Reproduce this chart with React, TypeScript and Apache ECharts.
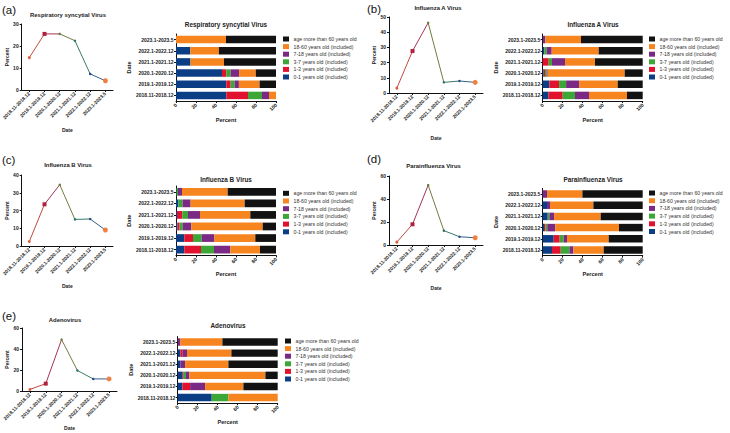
import React, { useEffect, useRef } from 'react';
import * as echarts from 'echarts';

// ---------- data ----------
const periods = ['2018.11-2018.12', '2019.1-2019.12', '2020.1-2020.12', '2021.1-2021.12', '2022.1-2022.12', '2023.1-2023.5'];
// stacking order, left to right
const ageGroups = [
  '0-1 years old (included)',
  '1-3 years old (included)',
  '3-7 years old (included)',
  '7-18 years old (included)',
  '18-60 years old (included)',
  'age more than 60 years old',
];
const virusNames = ['Respiratory syncytial Virus', 'Influenza A Virus', 'Influenza B Virus', 'Parainfluenza Virus', 'Adenovirus'];
const panelLabels = ['(a)', '(b)', '(c)', '(d)', '(e)'];

// positive rate (%) per period
const rsvRate = [14.7, 25.5, 25.5, 22.4, 7.3, 4.2];
const fluARate = [3.2, 27.6, 46.2, 7.0, 7.9, 7.0];
const fluBRate = [2.5, 23.5, 34.5, 15.0, 15.2, 9.0];
const pivRate = [2.5, 18.0, 52.0, 12.5, 7.2, 6.3];
const advRate = [1.5, 7.0, 49.0, 19.5, 11.5, 11.5];

// age share (%) per period; rows follow ageGroups
const rsvShares = [
  [50.3, 50.3, 46.0, 14.5, 14.3, 0],
  [21.7, 4.3, 4.3, 0, 0, 0],
  [14.0, 4.0, 4.3, 0, 0, 0],
  [7.0, 4.3, 8.5, 0, 0, 0],
  [7.0, 20.7, 16.7, 33.5, 28.6, 50.0],
  [0, 16.4, 20.2, 52.0, 57.1, 50.0],
];
const fluAShares = [
  [5.7, 6.7, 1.0, 0, 1.7, 0],
  [14.3, 9.7, 1.3, 6.0, 0, 0],
  [12.3, 7.0, 1.7, 3.3, 2.3, 0],
  [14.0, 13.0, 1.0, 13.0, 5.0, 2.7],
  [38.0, 38.6, 77.0, 30.0, 47.0, 35.6],
  [15.7, 25.0, 18.0, 47.7, 44.0, 61.7],
];
const fluBShares = [
  [8.3, 8.3, 1.3, 1.0, 2.3, 0.5],
  [16.7, 8.7, 2.3, 5.3, 0, 0],
  [13.0, 8.7, 3.0, 5.7, 4.3, 1.5],
  [16.3, 12.7, 8.7, 12.0, 8.0, 4.0],
  [29.7, 40.9, 71.4, 50.3, 54.1, 45.7],
  [16.0, 20.7, 13.3, 25.7, 31.3, 48.3],
];
const pivShares = [
  [9.3, 11.0, 1.3, 5.0, 4.3, 0],
  [8.7, 6.0, 1.3, 0, 0, 0],
  [8.7, 4.0, 2.0, 1.7, 0, 0],
  [4.0, 3.3, 8.0, 4.7, 3.0, 4.3],
  [30.3, 41.7, 63.7, 46.6, 43.4, 35.4],
  [39.0, 34.0, 23.7, 42.0, 49.3, 60.3],
];
const advShares = [
  [34.0, 4.7, 5.0, 2.7, 2.7, 0],
  [0, 7.7, 1.0, 0, 2.3, 0],
  [16.7, 0, 2.3, 0, 0, 0],
  [0, 15.0, 3.3, 4.7, 4.3, 2.7],
  [49.3, 38.3, 76.1, 43.3, 44.4, 42.0],
  [0, 34.3, 12.3, 49.3, 46.3, 55.3],
];

const rates = [rsvRate, fluARate, fluBRate, pivRate, advRate];
const shares = [rsvShares, fluAShares, fluBShares, pivShares, advShares];
const rateMax = [30, 50, 40, 60, 60];
const rateStep = [10, 10, 10, 20, 20];

// ---------- styles / layout ----------
const ageColors = ['#0C3E86', '#E1122D', '#3CA636', '#7A2A84', '#F6851F', '#121212'];
const markerColors = ['#E0603E', '#B0203E', '#6E7D3E', '#2E7262', '#244C8A', '#F08042'];
const markerShapes = ['circle', 'rect', 'circle', 'circle', 'circle', 'circle'];
const markerSizes = [3, 4, 2.5, 2.5, 2.5, 5];
const segColors = ['#BF4A3C', '#A23452', '#6E7C40', '#3A786A', '#33608E'];

const layouts = [
  { label: [2, 9.5], lineTitle: [68, 14.5], barTitle: [226, 24.5], lineGrid: { left: 21, top: 24, width: 92, height: 66 }, dateGap: 37, barGrid: { left: 176, top: 34, width: 100, height: 67 }, legend: { left: 283, top: 36.5, gap: 2.6 } },
  { label: [367, 9], lineTitle: [438, 7.5], barTitle: [593, 24.5], lineGrid: { left: 389, top: 17, width: 94, height: 76 }, dateGap: 42, barGrid: { left: 542.7, top: 34, width: 100, height: 67 }, legend: { left: 649, top: 36.5, gap: 2.6 } },
  { label: [2, 160], lineTitle: [68, 164.5], barTitle: [226, 179], lineGrid: { left: 21, top: 175, width: 92, height: 71 }, dateGap: 37, barGrid: { left: 176, top: 186, width: 100, height: 69.4 }, legend: { left: 283, top: 190.8, gap: 2.7 } },
  { label: [367, 158.5], lineTitle: [433.5, 165.5], barTitle: [593, 179], lineGrid: { left: 389, top: 176, width: 94, height: 69 }, dateGap: 40, barGrid: { left: 542.7, top: 188.4, width: 100, height: 67.2 }, legend: { left: 649, top: 190.5, gap: 2.7 } },
  { label: [2, 316], lineTitle: [65, 319.5], barTitle: [228, 325.5], lineGrid: { left: 22, top: 328, width: 95, height: 63 }, dateGap: 34, barGrid: { left: 177.7, top: 336.5, width: 100, height: 66.6 }, legend: { left: 285, top: 338.5, gap: 2.6 } },
];

const FONT = 'Liberation Sans, Arial, sans-serif';
const axisLineStyle = { show: true, lineStyle: { color: '#111', width: 1 } };

function buildOption() {
  const grid: any[] = [];
  const xAxis: any[] = [];
  const yAxis: any[] = [];
  const series: any[] = [];
  const legend: any[] = [];
  const graphic: any[] = [];

  const stops: any[] = [];
  segColors.forEach((c, i) => {
    stops.push({ offset: i / segColors.length, color: c });
    stops.push({ offset: (i + 1) / segColors.length, color: c });
  });

  layouts.forEach((L, p) => {
    const gLine = grid.length;
    grid.push({ ...L.lineGrid, containLabel: false });
    const gBar = grid.length;
    grid.push({ ...L.barGrid, containLabel: false });

    // line chart axes
    xAxis.push({
      gridIndex: gLine, type: 'category', data: periods, boundaryGap: true,
      axisLine: axisLineStyle,
      axisTick: { show: true, alignWithLabel: true, length: 2, lineStyle: { color: '#111' } },
      axisLabel: { rotate: 45, fontSize: 4.8, fontWeight: 'bold', color: '#222', margin: 3, interval: 0, fontFamily: FONT },
      name: 'Date', nameLocation: 'middle', nameGap: L.dateGap,
      nameTextStyle: { fontSize: 5, fontWeight: 'bold', color: '#222', fontFamily: FONT },
    });
    yAxis.push({
      gridIndex: gLine, type: 'value', min: 0, max: rateMax[p], interval: rateStep[p],
      axisLine: axisLineStyle,
      axisTick: { show: true, length: 2, lineStyle: { color: '#111' } },
      axisLabel: { fontSize: 5, fontWeight: 'bold', color: '#222', margin: 3, fontFamily: FONT },
      splitLine: { show: false },
      name: 'Percent', nameLocation: 'middle', nameGap: 11,
      nameTextStyle: { fontSize: 5, fontWeight: 'bold', color: '#222', fontFamily: FONT },
    });
    // bar chart axes
    const xBar = xAxis.length;
    xAxis.push({
      gridIndex: gBar, type: 'value', min: 0, max: 100, interval: 20,
      axisLine: axisLineStyle,
      axisTick: { show: true, length: 2, lineStyle: { color: '#111' } },
      axisLabel: { rotate: 45, fontSize: 5, fontWeight: 'bold', color: '#222', margin: 3, fontFamily: FONT },
      splitLine: { show: false },
      name: 'Percent', nameLocation: 'middle', nameGap: 15.5,
      nameTextStyle: { fontSize: 5.6, fontWeight: 'bold', color: '#222', fontFamily: FONT },
    });
    const yBar = yAxis.length;
    yAxis.push({
      gridIndex: gBar, type: 'category', data: periods,
      axisLine: axisLineStyle,
      axisTick: { show: true, alignWithLabel: true, length: 2, lineStyle: { color: '#111' } },
      axisLabel: { fontSize: 5, fontWeight: 'bold', color: '#222', margin: 2.5, fontFamily: FONT },
      name: 'Date', nameLocation: 'middle', nameGap: 42,
      nameTextStyle: { fontSize: 5.6, fontWeight: 'bold', color: '#222', fontFamily: FONT },
    });

    series.push({
      type: 'line', xAxisIndex: gLine, yAxisIndex: gLine,
      data: rates[p].map((v, i) => ({
        value: v, symbol: markerShapes[i], symbolSize: markerSizes[i],
        itemStyle: { color: markerColors[i] },
      })),
      lineStyle: { width: 1, color: new echarts.graphic.LinearGradient(0, 0, 1, 0, stops) },
      showSymbol: true,
    });

    ageGroups.forEach((g, k) => {
      series.push({
        type: 'bar', name: g, stack: 'panel' + p, xAxisIndex: xBar, yAxisIndex: yBar,
        data: shares[p][k], barCategoryGap: '33%',
        itemStyle: { color: ageColors[k] },
      });
    });

    legend.push({
      orient: 'vertical', left: L.legend.left, top: L.legend.top, padding: 0,
      itemWidth: 6, itemHeight: 5, itemGap: L.legend.gap, icon: 'rect', selectedMode: false,
      data: [...ageGroups].reverse(),
      textStyle: { fontSize: 5.2, color: '#333', fontFamily: FONT, padding: [0, 0, 0, -0.5] },
    });

    graphic.push({
      type: 'text', x: L.label[0], y: L.label[1],
      style: { text: panelLabels[p], font: '11.5px ' + FONT, fill: '#111', textAlign: 'left', textVerticalAlign: 'middle' },
    });
    graphic.push({
      type: 'text', x: L.lineTitle[0], y: L.lineTitle[1],
      style: { text: virusNames[p], font: 'bold 5.9px ' + FONT, fill: '#222', textAlign: 'center', textVerticalAlign: 'middle' },
    });
    graphic.push({
      type: 'text', x: L.barTitle[0], y: L.barTitle[1],
      style: { text: virusNames[p], font: 'bold 6.4px ' + FONT, fill: '#222', textAlign: 'center', textVerticalAlign: 'middle' },
    });
  });

  return {
    animation: false,
    backgroundColor: '#fff',
    textStyle: { fontFamily: FONT },
    grid, xAxis, yAxis, series, legend, graphic,
  };
}

export default function App() {
  const ref = useRef<HTMLDivElement>(null);
  useEffect(() => {
    if (!ref.current) return;
    const chart = echarts.init(ref.current, undefined, { renderer: 'svg' });
    chart.setOption(buildOption() as any);
    return () => chart.dispose();
  }, []);
  return <div ref={ref} style={{ position: 'fixed', left: 0, top: 0, width: 730, height: 433 }} />;
}
